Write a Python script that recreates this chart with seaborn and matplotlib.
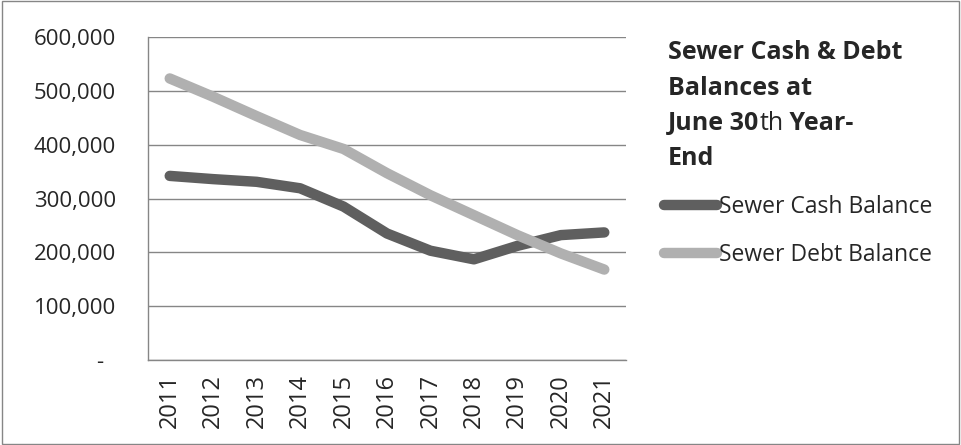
import numpy as np
import pandas as pd
import seaborn as sns
import matplotlib.pyplot as plt
from matplotlib.lines import Line2D

years = ['2011', '2012', '2013', '2014', '2015', '2016', '2017', '2018', '2019', '2020', '2021']
cash = [342000, 336000, 331000, 319000, 285000, 235000, 203000, 187000, 212000, 232000, 237000]
debt = [523000, 489000, 453000, 418000, 392000, 347000, 306000, 269000, 232000, 198000, 168000]
series_names = ['Sewer Cash Balance', 'Sewer Debt Balance']
colors = ['#5f5f5f', '#b0b0b0']

df = pd.DataFrame({'year': years * 2,
                   'value': cash + debt,
                   'series': [series_names[0]] * len(years) + [series_names[1]] * len(years)})

sns.set_style('white')
plt.rcParams['font.family'] = ['Open Sans', 'DejaVu Sans']
plt.rcParams['lines.solid_capstyle'] = 'round'

fig = plt.figure(figsize=(9.61, 4.45), dpi=100)
ax = fig.add_axes([148 / 961, 1 - 360 / 445, (626 - 148) / 961, (360 - 37) / 445])

sns.lineplot(data=df, x='year', y='value', hue='series', palette=colors,
             linewidth=7.5, ax=ax, legend=False, sort=False)

ax.set_xlim(-0.5, len(years) - 0.5)
ax.set_ylim(0, 600000)
ax.set_yticks(np.arange(0, 600001, 100000))
ax.set_yticklabels(['-  '] + ['{:,}'.format(v) for v in range(100000, 600001, 100000)], fontsize=16)
ax.set_xticks(range(len(years)))
ax.set_xticklabels(years, rotation=90, fontsize=17)
ax.set_xticks(np.arange(-0.5, len(years), 1), minor=True)
ax.tick_params(axis='x', which='major', length=0, pad=10)
ax.tick_params(axis='x', which='minor', length=7, color='#868686', width=1, direction='out')
ax.tick_params(axis='y', length=7, color='#868686', width=1, direction='out', pad=16)
ax.yaxis.grid(True, color='#868686', linewidth=1)
ax.set_axisbelow(True)
for s in ['top', 'right']:
    ax.spines[s].set_visible(False)
for s in ['left', 'bottom']:
    ax.spines[s].set_color('#868686')
    ax.spines[s].set_linewidth(1)
ax.set_xlabel('')
ax.set_ylabel('')

# outer frame
fig.patches.append(plt.Rectangle((0.002, 0.003), 0.996, 0.994, transform=fig.transFigure,
                                 fill=False, edgecolor='#868686', linewidth=1))

# title with mixed weights
tx = 668 / 961
tsize = 18
fig.text(tx, 1 - 59 / 445, 'Sewer Cash & Debt', fontsize=tsize, fontweight='bold', va='baseline')
fig.text(tx, 1 - 95 / 445, 'Balances at', fontsize=tsize, fontweight='bold', va='baseline')
fig.text(tx, 1 - 165 / 445, 'End', fontsize=tsize, fontweight='bold', va='baseline')

# third line: "June 30" bold, "th" regular, " Year-" bold
fig.canvas.draw()
renderer = fig.canvas.get_renderer()
x = tx
for piece, weight in [('June 30', 'bold'), ('th', 'normal'), (' Year-', 'bold')]:
    t = fig.text(x, 1 - 130 / 445, piece, fontsize=tsize, fontweight=weight, va='baseline')
    ext = t.get_window_extent(renderer)
    x = ext.x1 / fig.bbox.width

handles = [Line2D([0], [0], color=c, linewidth=7.5) for c in colors]
fig.legend(handles, series_names, loc='upper left', bbox_to_anchor=(664 / 961, 1 - 195 / 445),
           frameon=False, fontsize=16.5, handlelength=2.3, handletextpad=0.1, labelspacing=1.05,
           borderaxespad=0, borderpad=0)

fig.savefig('out.png', dpi=100)
